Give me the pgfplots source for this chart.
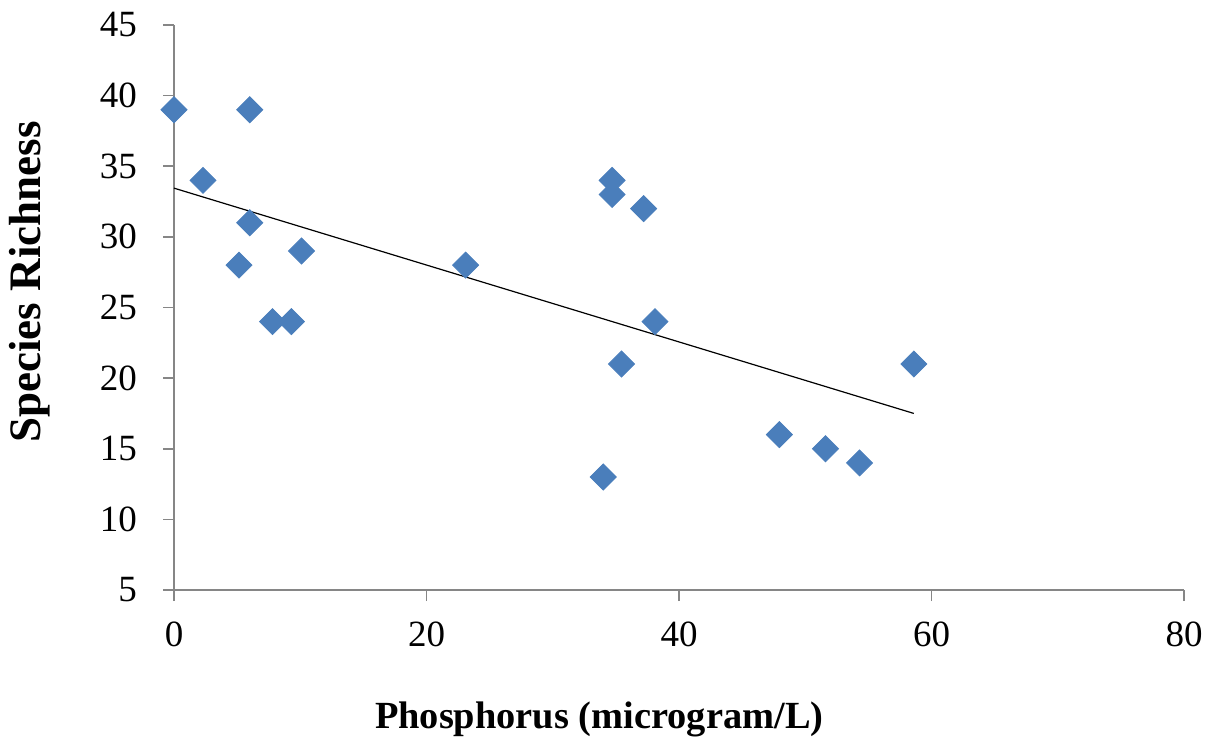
\documentclass[border=0pt]{standalone}
\usepackage{pgfplots}
\pgfplotsset{compat=1.18}
\usepackage{fontspec}
\setmainfont{Liberation Serif}
\definecolor{ptblue}{HTML}{4A7EBB}
\definecolor{axgray}{HTML}{868686}

\begin{document}
\begin{tikzpicture}
\begin{axis}[
  name=ax,
  scale only axis,
  width=505pt, height=282.5pt,
  xmin=0, xmax=80, ymin=5, ymax=45,
  xtick={0,20,...,80}, ytick={5,10,...,45},
  axis lines*=left,
  axis line style={axgray, line width=0.8pt, -},
  tick style={axgray, line width=0.8pt},
  tick align=outside,
  major tick length=5.5pt,
  /pgf/number format/assume math mode=true,
  tick label style={font=\fontsize{18.5}{22}\selectfont},
  yticklabel style={xshift=-9.5pt},
  xticklabel style={yshift=-7pt},
  clip=false,
]
\addplot[only marks, mark=square*, mark size=4.6pt,
  mark options={rotate=45, fill=ptblue, draw=ptblue}] coordinates {
  (0,39) (2.3,34) (6.0,39) (6.0,31) (5.15,28) (7.8,24) (9.3,24) (10.1,29)
  (23.1,28) (34.7,34) (34.7,33) (37.2,32) (38.1,24) (35.45,21) (34.0,13)
  (47.95,16) (51.6,15) (54.3,14) (58.6,21)
};
% linear trendline
\addplot[black, line width=0.6pt] coordinates {(0,33.45) (58.6,17.5)};
\node[font=\fontsize{19.2}{23}\selectfont\bfseries, anchor=base]
  at ([yshift=-69pt]axis description cs:0.421,0) {Phosphorus (microgram/L)};
\node[font=\fontsize{22.5}{26}\selectfont\bfseries, anchor=center, rotate=90]
  at ([xshift=-72pt]axis description cs:0,0.545) {Species Richness};
\end{axis}
\pgfresetboundingbox
\path (ax.south west) ++(-87pt,-76pt) coordinate (bl);
\path (ax.north east) ++(13pt,12.5pt) coordinate (tr);
\path (bl) rectangle (tr);
\end{tikzpicture}
\end{document}
